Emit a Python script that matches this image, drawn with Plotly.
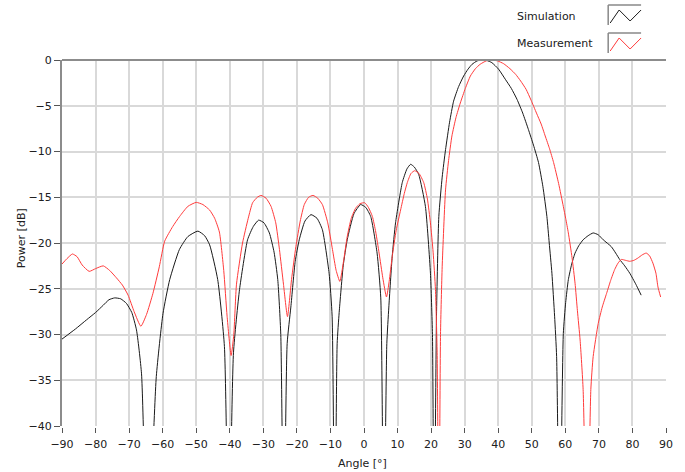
import plotly.graph_objects as go

# Antenna pattern: simulated vs measured power over steering angle
sim_angle = [-90, -86, -82.7, -80, -77.7, -76, -74.3, -72.5, -70.8, -69.2, -67.8, -66.3, -64.5,
             -61.9, -59.9, -57.9, -55, -52.5, -49.5, -47.5, -46, -43.6, -41.6, -40.3,
             -38.9, -37.1, -34.7, -33, -31.4, -29.8, -28.2, -26.8, -25.7, -24.8, -23.9,
             -22.9, -21.8, -20.5, -19.3, -17.6, -15.8, -14, -12.4, -10.4, -9.5, -8.7,
             -8.0, -7.4, -6.2, -5.0, -3, -1.0, 0.5, 2.0, 3.9, 5.0, 5.9,
             6.8, 7.4, 8.4, 9.4, 11.4, 12.8, 13.9, 15, 16.3, 18.3, 19.8, 20.4, 20.9,
             21.6, 22.3, 23.3, 24.3, 25.5, 26.7, 28.2, 29.7, 31, 32.2, 33.7, 35.1, 36.6,
             38.1, 40.1, 42.1, 43.9, 45.6, 47.3, 49.0, 50.5, 52.0, 53.3, 54.5, 55.2, 56.0,
             56.8, 57.4, 58.3, 59.4, 60.1, 60.9, 61.9, 62.9, 64, 65.3, 66.8, 68.3, 69.8,
             71.3, 73.7, 75, 76.2, 77.7, 79.2, 81, 82.6]
sim_db = [-30.5, -29.4, -28.4, -27.6, -26.8, -26.2, -26.0, -26.1, -26.6, -27.6, -29.5, -34.3, -55,
          -34.6, -27.7, -24.0, -20.7, -19.3, -18.7, -19.2, -20.2, -24.0, -31.3, -55,
          -32, -25.1, -19.65, -18.2, -17.5, -17.8, -18.9, -21, -24.0, -30, -55,
          -31, -27.0, -22, -19.65, -17.6, -16.9, -17.3, -18.55, -23.3, -28, -55,
          -31, -27.6, -22.5, -19.65, -16.8, -15.8, -16.1, -17.1, -21.1, -26, -55,
          -31, -27.0, -21.5, -17.8, -13.4, -11.9, -11.4, -11.7, -12.5, -16.0, -23.3, -30, -55,
          -28, -17.1, -12.8, -9.8, -6.8, -4.5, -2.9, -1.75, -1.0, -0.47, -0.1, 0.0, -0.05,
          -0.29, -1.0, -2.1, -3.1, -4.3, -5.8, -7.6, -9.3, -11.2, -13.8, -17.1, -20, -23.3,
          -28, -32.4, -55, -29.9, -26.5, -24.0, -22.3, -21.1, -20.3, -19.65, -19.2, -18.9, -19.1,
          -19.65, -20.4, -21.1, -21.8, -22.5, -23.3, -24.5, -25.7]

meas_angle = [-90, -88.5, -86.9, -85.5, -84, -81.9, -80, -77.7, -75.8, -73.8, -72, -70.3, -68.5,
              -66.5, -64.8, -62.9, -61, -59.4, -57, -54.95, -52.5, -50, -48, -46, -44.5,
              -43.1, -41.8, -40.8, -39.6, -38.8, -38, -36.2, -34.5, -33.2, -31.8, -30.7,
              -29.2, -27.7, -26.3, -25.2, -24, -22.8, -21.6, -20.3, -19, -17.8, -16.5,
              -15.2, -13.8, -12.4, -10.8, -9.4, -8.3, -7.2, -6.1, -5.0, -3.8, -2.5, -1.2,
              0.2, 1.3, 2.5, 3.5, 4.5, 5.6, 6.7, 7.5, 8.4, 9.6, 10.9, 12.0, 12.9, 14,
              15.1, 16.4, 17.8, 18.9, 19.8, 20.6, 21.3, 21.8, 22.3, 22.8, 23.3, 24.3,
              25.2, 26.2, 27.4, 28.7, 30.2, 31.7, 33.2, 34.6, 36.4, 38.0, 39.8, 41.6,
              43.5, 45.2, 46.7, 48.3, 49.8, 51.4, 52.8, 54.0, 55.3, 56.5, 58, 59.4, 60.1,
              60.9, 62, 62.9, 63.6, 64.4, 65.3, 66.5, 67.6, 68.3, 69.8, 71, 72.3, 73.5,
              74.7, 75.7, 76.7, 78, 79.2, 80.4, 81.6, 82.9, 84.1, 85.1, 86.1, 87, 87.6, 88.4]
meas_db = [-22.3, -21.7, -21.2, -21.5, -22.4, -23.1, -22.8, -22.5, -23.0, -23.8, -24.6, -25.7, -27.5,
           -29.1, -27.8, -25.5, -22.6, -19.8, -18.2, -17.1, -16.0, -15.56, -15.8, -16.4, -17.3,
           -18.8, -23, -28, -32.3, -30, -24.5, -20.0, -17.3, -15.6, -15.0, -14.8,
           -15.1, -16.0, -17.8, -20.7, -24.5, -28.05, -24, -20.4, -17.6, -15.8, -15.0,
           -14.8, -15.1, -15.8, -17.8, -20.7, -23, -24.2, -22, -19.3, -17.3, -16.2, -15.7,
           -15.6, -16.1, -17.1, -18.8, -21.1, -23.8, -25.9, -24.2, -21.5, -18.6, -16.4, -14.6, -13.4, -12.4,
           -12.1, -12.4, -13.4, -15.2, -17.8, -21, -25.1, -32, -55, -30, -22.6, -14.2,
           -11, -8.3, -6.3, -4.7, -3.1, -1.75, -0.95, -0.47, -0.1, 0.0, -0.1, -0.4,
           -0.95, -1.57, -2.3, -3.2, -4.4, -5.8, -7.0, -8.3, -9.7, -11.2, -13.5, -16.0, -17.3,
           -18.9, -21.6, -24.4, -27.4, -30.6, -36, -55, -36, -32.4, -28.8, -27, -25.5, -24.1,
           -22.9, -22.2, -21.8, -21.9, -22.0, -21.9, -21.65, -21.3, -21.1, -21.4, -22.2, -23.3, -24.8, -25.9]

x_ticks = list(range(-90, 91, 10))
y_ticks = list(range(-40, 1, 5))

W, H = 685, 472
ML, MR, MT, MB = 62, 17, 60, 46
PW, PH = W - ML - MR, H - MT - MB


def px(x):
    return (x - ML) / PW


def py(y):
    return (H - MB - y) / PH


FONT = "DejaVu Sans"
SIM_COLOR = "#1a1a1a"
MEAS_COLOR = "#ff3b3b"
AXIS_GRAY = "#8c8c8c"

fig = go.Figure()
fig.add_trace(go.Scatter(x=sim_angle, y=sim_db, mode="lines", name="Simulation",
                         line=dict(color=SIM_COLOR, width=1, shape="spline", smoothing=0.5)))
fig.add_trace(go.Scatter(x=meas_angle, y=meas_db, mode="lines", name="Measurement",
                         line=dict(color=MEAS_COLOR, width=1, shape="spline", smoothing=0.5)))

fig.update_layout(
    width=W, height=H,
    margin=dict(l=ML, r=MR, t=MT, b=MB),
    paper_bgcolor="white", plot_bgcolor="white",
    showlegend=False,
    font=dict(family=FONT, size=11, color="#202020"),
)

fig.update_xaxes(
    range=[-90, 90], tickvals=x_ticks, ticks="outside", ticklen=5,
    tickcolor="#555555", tickwidth=1, ticklabelstandoff=2,
    showgrid=True, gridcolor="#d9d9d9", gridwidth=1.5,
    showline=True, linecolor="white", linewidth=2, layer="below traces",
    zeroline=False, tickfont=dict(family=FONT, size=11),
)
fig.update_yaxes(
    range=[-40, 0], tickvals=y_ticks, ticks="outside", ticklen=6,
    tickcolor="#555555", tickwidth=1,
    showgrid=True, gridcolor="#d9d9d9", gridwidth=1.5,
    showline=True, linecolor=AXIS_GRAY, linewidth=2,
    zeroline=False, tickfont=dict(family=FONT, size=11),
)

# top frame edge
fig.add_shape(type="line", xref="paper", yref="paper", x0=0, x1=1, y0=1, y1=1,
              line=dict(color=AXIS_GRAY, width=2))

# axis titles
fig.add_annotation(text="Angle [°]", xref="paper", yref="paper",
                   x=px(363), y=py(463), xanchor="center", yanchor="middle",
                   showarrow=False, font=dict(family=FONT, size=11))
fig.add_annotation(text="Power [dB]", xref="paper", yref="paper",
                   x=px(21), y=py(238), xanchor="center", yanchor="middle",
                   textangle=-90, showarrow=False, font=dict(family=FONT, size=11))

# legend: label, sample box with a zigzag stroke
legend_rows = [("Simulation", SIM_COLOR, 5), ("Measurement", MEAS_COLOR, 33)]
for label, color, top in legend_rows:
    fig.add_annotation(text=label, xref="paper", yref="paper",
                       x=px(516), y=py(top + 11), xanchor="left", yanchor="middle",
                       showarrow=False, font=dict(family=FONT, size=11))
    fig.add_shape(type="line", xref="paper", yref="paper",
                  x0=px(610), x1=px(643), y0=py(top), y1=py(top),
                  line=dict(color="#888888", width=1.5))
    fig.add_shape(type="line", xref="paper", yref="paper",
                  x0=px(610), x1=px(610), y0=py(top), y1=py(top + 20),
                  line=dict(color="#888888", width=1.5))
    pts = [(612, top + 18), (621, top + 5), (632, top + 16), (643, top + 5)]
    path = "M " + " L ".join(f"{px(a):.5f},{py(b):.5f}" for a, b in pts)
    fig.add_shape(type="path", xref="paper", yref="paper", path=path,
                  line=dict(color=color, width=1))

fig.write_html("out.html")
